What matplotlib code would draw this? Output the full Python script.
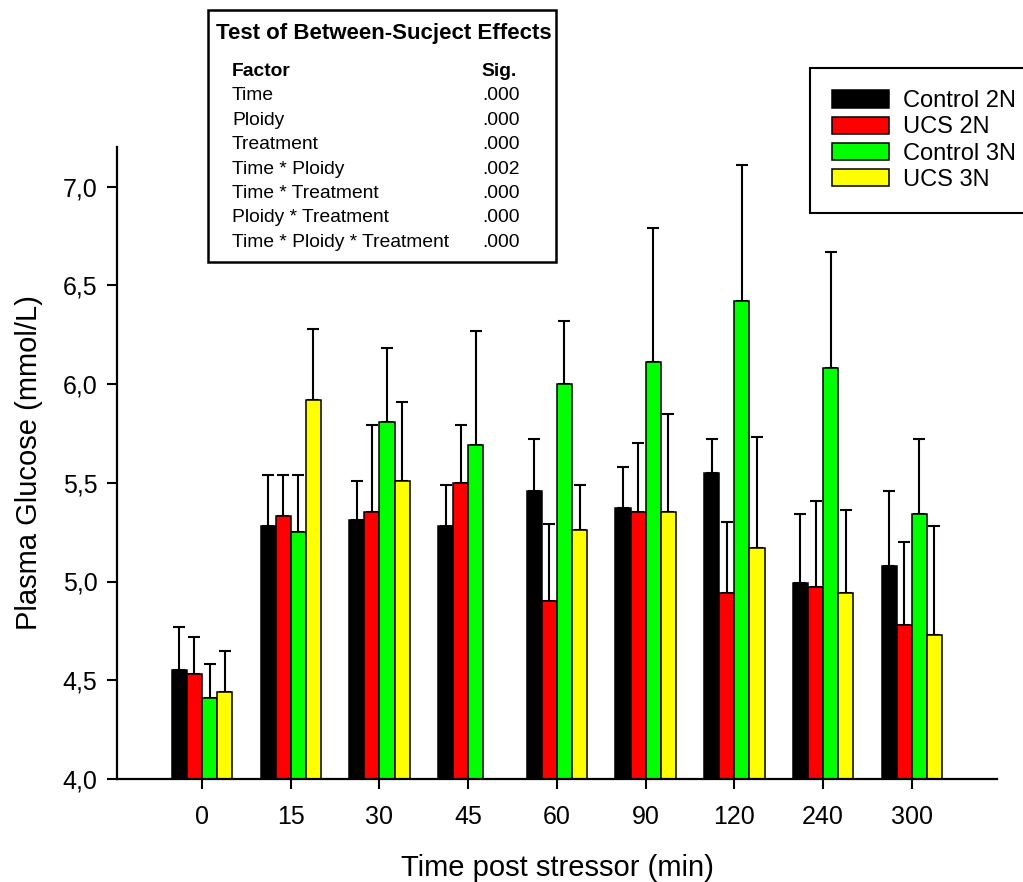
import numpy as np
import matplotlib
matplotlib.use("Agg")
import matplotlib.pyplot as plt
from matplotlib.patches import Patch, Rectangle

plt.rcParams['font.family'] = ['Liberation Sans', 'DejaVu Sans']

times = ["0", "15", "30", "45", "60", "90", "120", "240", "300"]
series = ["Control 2N", "UCS 2N", "Control 3N", "UCS 3N"]
colors = ["#000000", "#ff0000", "#00ff00", "#ffff00"]

control_2n = [4.55, 5.28, 5.31, 5.28, 5.46, 5.37, 5.55, 4.99, 5.08]
ucs_2n = [4.53, 5.33, 5.35, 5.50, 4.90, 5.35, 4.94, 4.97, 4.78]
control_3n = [4.41, 5.25, 5.81, 5.69, 6.00, 6.11, 6.42, 6.08, 5.34]
ucs_3n = [4.44, 5.92, 5.51, np.nan, 5.26, 5.35, 5.17, 4.94, 4.73]

control_2n_err = [0.22, 0.26, 0.20, 0.21, 0.26, 0.21, 0.17, 0.35, 0.38]
ucs_2n_err = [0.19, 0.21, 0.44, 0.29, 0.39, 0.35, 0.36, 0.44, 0.42]
control_3n_err = [0.17, 0.29, 0.37, 0.58, 0.32, 0.68, 0.69, 0.59, 0.38]
ucs_3n_err = [0.21, 0.36, 0.40, np.nan, 0.23, 0.50, 0.56, 0.42, 0.55]

factors = ["Time", "Ploidy", "Treatment", "Time * Ploidy", "Time * Treatment",
           "Ploidy * Treatment", "Time * Ploidy * Treatment"]
sig = [".000", ".000", ".000", ".002", ".000", ".000", ".000"]

means = [control_2n, ucs_2n, control_3n, ucs_3n]
errs = [control_2n_err, ucs_2n_err, control_3n_err, ucs_3n_err]

fig = plt.figure(figsize=(10.23, 8.82), dpi=100)
ax = fig.add_axes([117/1023, 103/882, (997-117)/1023, (779-147)/882])

x = np.arange(len(times))
w = 0.17
for i, (m, e, c) in enumerate(zip(means, errs, colors)):
    pos = x + (i - 1.5) * w
    m = np.array(m, dtype=float)
    e = np.array(e, dtype=float)
    ax.bar(pos, m - 4.0, bottom=4.0, width=w, color=c, edgecolor='black',
           linewidth=1.1, zorder=2)
    ax.errorbar(pos, m, yerr=[np.zeros_like(e), e], fmt='none', ecolor='black',
                elinewidth=1.5, capsize=4.3, capthick=1.5, zorder=1)

ax.set_xlim(-0.958, 8.96)
ax.set_ylim(4.0, 7.2)
ax.set_xticks(x)
ax.set_xticklabels(times)
yt = [4.0, 4.5, 5.0, 5.5, 6.0, 6.5, 7.0]
ax.set_yticks(yt)
ax.set_yticklabels([f"{v:.1f}".replace('.', ',') for v in yt])
ax.tick_params(axis='both', labelsize=18, width=1.5, length=7, direction='out')
ax.tick_params(axis='y', pad=7)
ax.tick_params(axis='x', pad=12)
for s in ['top', 'right']:
    ax.spines[s].set_visible(False)
for s in ['left', 'bottom']:
    ax.spines[s].set_linewidth(1.6)

ax.set_xlabel("Time post stressor (min)", fontsize=21, labelpad=18)
ax.set_ylabel("Plasma Glucose (mmol/L)", fontsize=21, labelpad=14)

# Legend
handles = [Patch(facecolor=c, edgecolor='black', linewidth=1.1) for c in colors]
leg = fig.legend(handles, series, loc='upper left',
                 bbox_to_anchor=(810/1023, 1 - 68/882), fontsize=17,
                 fancybox=False, frameon=True, edgecolor='black',
                 handlelength=2.41, handleheight=0.75, handletextpad=0.59,
                 labelspacing=0.18, borderpad=0.94, borderaxespad=0)
leg.get_frame().set_linewidth(1.5)
leg.get_frame().set_alpha(1)

# Table box
fig.patches.append(Rectangle((208/1023, 1 - 262/882), (556-208)/1023, (262-10)/882,
                             transform=fig.transFigure, facecolor='white',
                             edgecolor='black', linewidth=1.8, zorder=5))
fig.text(216/1023, 1 - 33/882, "Test of Between-Sucject Effects", fontsize=16,
         fontweight='bold', va='center', ha='left', zorder=6)
fig.text(232/1023, 1 - 72/882, "Factor", fontsize=13.9, fontweight='bold',
         va='center', ha='left', zorder=6)
fig.text(482/1023, 1 - 72/882, "Sig.", fontsize=13.9, fontweight='bold',
         va='center', ha='left', zorder=6)
for k, (f, sgn) in enumerate(zip(factors, sig)):
    yy = 1 - (96 + k * 24.4) / 882
    fig.text(232/1023, yy, f, fontsize=13.9, va='center', ha='left', zorder=6)
    fig.text(482/1023, yy, sgn, fontsize=13.9, va='center', ha='left', zorder=6)

fig.savefig("out.png", dpi=100)
